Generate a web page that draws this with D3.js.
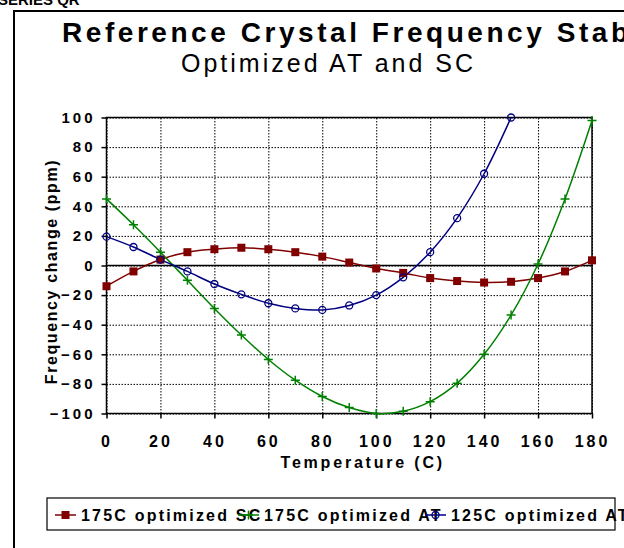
<!DOCTYPE html>
<html>
<head>
<meta charset="utf-8">
<script src="https://cdn.jsdelivr.net/npm/d3@7"></script>
<style>
  body { margin: 0; background: #fff; }
  svg { display: block; font-family: "Liberation Sans", Arial, sans-serif; }
  .axis path { display: none; }
  .axis line { stroke: #000; stroke-width: 1.5; }
  .axis text { font-weight: bold; fill: #000; letter-spacing: 3px; }
  .grid path { display: none; }
  .grid line { stroke: #000; stroke-width: 1; stroke-dasharray: 1.5,1.5; }
  .series { fill: none; stroke-width: 1.5; }
</style>
</head>
<body>
<div class="chart"></div>
<script>

// temperatures (C)
const temps = [0, 10, 20, 30, 40, 50, 60, 70, 80, 90, 100, 110, 120, 130, 140, 150, 160, 170, 180];

// frequency change (ppm)
const sc175 = [-14, -4, 4, 9, 11, 12, 11, 9, 6, 2, -2, -5, -8.5, -10.5, -11.5, -11, -8.5, -4, 3.5];
const at175 = [45, 27.5, 9, -10, -29, -47, -63.5, -77.5, -88.5, -96, -100, -98.5, -92, -79.5, -60, -33.5, 1, 45, 98];
const at125 = [19.5, 12.5, 4, -4, -12.5, -19.5, -25.5, -29, -30, -27, -20, -8, 9, 32, 62, 100];

const seriesNames = ["175C optimized SC", "175C optimized AT", "125C optimized AT"];
const seriesColors = ["#800000", "#008000", "#000080"];

const xTicks = [0, 20, 40, 60, 80, 100, 120, 140, 160, 180];
const yTicks = [-100, -80, -60, -40, -20, 0, 20, 40, 60, 80, 100];

// margin convention
const margin = {top: 117.5, right: 32, bottom: 134.5, left: 106.5};
const W = 624, H = 548;
const width = W - margin.left - margin.right,
      height = H - margin.top - margin.bottom;

const root = d3.select(".chart").append("svg")
    .attr("width", W)
    .attr("height", H);

// outer chart frame (runs off the right/bottom of the picture)
root.append("path")
    .attr("d", "M14,600V11H700")
    .attr("fill", "none")
    .attr("stroke", "#000")
    .attr("stroke-width", 2);

root.append("text")
    .attr("x", -2).attr("y", 5)
    .attr("font-size", 15).attr("font-weight", "bold")
    .text("SERIES QR");

root.append("text")
    .attr("x", 62).attr("y", 42)
    .attr("font-size", 28).attr("font-weight", "bold")
    .attr("letter-spacing", 3.55)
    .text("Reference Crystal Frequency Stability");

root.append("text")
    .attr("x", 181).attr("y", 72)
    .attr("font-size", 25)
    .attr("letter-spacing", 3)
    .text("Optimized AT and SC");

const svg = root.append("g")
    .attr("transform", `translate(${margin.left},${margin.top})`);

const xScale = d3.scaleLinear().domain([0, 180]).range([0, width]);
const yScale = d3.scaleLinear().domain([-100, 100]).range([height, 0]);

// dotted grid
svg.append("g")
    .attr("class", "grid")
    .call(d3.axisLeft(yScale).tickValues(yTicks).tickSize(-width).tickFormat(""));
svg.append("g")
    .attr("class", "grid")
    .attr("transform", `translate(0,${height})`)
    .call(d3.axisBottom(xScale).tickValues(xTicks).tickSize(-height).tickFormat(""));

// zero line + plot border
svg.append("line")
    .attr("x1", 0).attr("x2", width)
    .attr("y1", yScale(0)).attr("y2", yScale(0))
    .attr("stroke", "#000").attr("stroke-width", 1.5);
svg.append("rect")
    .attr("width", width).attr("height", height)
    .attr("fill", "none").attr("stroke", "#000").attr("stroke-width", 1.5);

// axes
const yAxisSVG = svg.append("g")
    .attr("class", "axis y-axis")
    .call(d3.axisLeft(yScale).tickValues(yTicks).tickSize(5).tickPadding(6));
yAxisSVG.selectAll("text").attr("font-size", 15);

const xAxisSVG = svg.append("g")
    .attr("class", "axis x-axis")
    .attr("transform", `translate(0,${height})`)
    .call(d3.axisBottom(xScale).tickValues(xTicks).tickSize(5).tickPadding(17));
xAxisSVG.selectAll("text").attr("font-size", 16);

// axis titles
svg.append("text")
    .attr("x", 174).attr("y", 350.5)
    .attr("font-size", 16).attr("font-weight", "bold")
    .attr("letter-spacing", 2.8)
    .text("Temperature (C)");

svg.append("text")
    .attr("transform", `translate(-49.5,${154}) rotate(-90)`)
    .attr("text-anchor", "middle")
    .attr("font-size", 16).attr("font-weight", "bold")
    .attr("letter-spacing", 1.6)
    .text("Frequency change (ppm)");

// series
const allSeries = [sc175, at175, at125].map((vals, i) => ({
    key: seriesNames[i],
    color: seriesColors[i],
    points: vals.map((v, j) => ({t: temps[j], v: v}))
}));

const line = d3.line()
    .x(d => xScale(d.t))
    .y(d => yScale(d.v))
    .curve(d3.curveCatmullRom);

svg.selectAll(".series")
    .data(allSeries, d => d.key)
    .enter()
    .append("path")
    .attr("class", "series")
    .attr("stroke", d => d.color)
    .attr("d", d => line(d.points));

function drawMarker(sel, i, color) {
    if (i === 0) {
        sel.append("rect").attr("x", -4).attr("y", -4).attr("width", 8).attr("height", 8)
            .attr("fill", color);
    } else if (i === 1) {
        sel.append("path").attr("d", "M-4.5,0H4.5M0,-4.5V4.5")
            .attr("stroke", color).attr("stroke-width", 1.5);
    } else {
        sel.append("circle").attr("r", 3.5)
            .attr("fill", "none").attr("stroke", color).attr("stroke-width", 1.3);
    }
}

allSeries.forEach((s, i) => {
    svg.append("g").selectAll("g")
        .data(s.points)
        .enter()
        .append("g")
        .attr("transform", d => `translate(${xScale(d.t)},${yScale(d.v)})`)
        .each(function() { drawMarker(d3.select(this), i, s.color); });
});

// legend
root.append("rect")
    .attr("x", 47).attr("y", 498)
    .attr("width", 568).attr("height", 32)
    .attr("fill", "#fff").attr("stroke", "#000").attr("stroke-width", 1.2);

const legendX = [55, 238, 425];
allSeries.forEach((s, i) => {
    const g = root.append("g").attr("transform", `translate(${legendX[i]},515)`);
    g.append("text")
        .attr("x", 26).attr("y", 6)
        .attr("font-size", 16).attr("font-weight", "bold")
        .attr("letter-spacing", 2.2)
        .text(s.key);
    g.append("line").attr("x1", 0).attr("x2", 21)
        .attr("stroke", s.color).attr("stroke-width", 1.5);
    const m = g.append("g").attr("transform", "translate(10.5,0)");
    drawMarker(m, i, s.color);
});

</script>
</body>
</html>
